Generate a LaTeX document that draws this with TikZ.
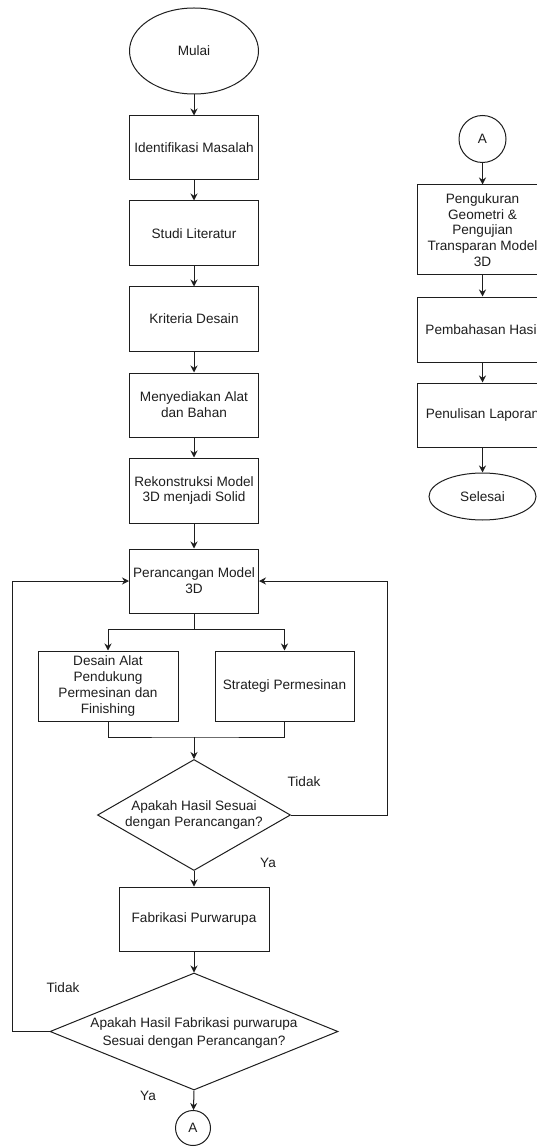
\documentclass[tikz,border=0pt]{standalone}
\usepackage{fontspec}
\setmainfont{Liberation Sans}
\usetikzlibrary{shapes.geometric,arrows.meta}
\definecolor{ln}{RGB}{30,30,30}
\definecolor{tx}{RGB}{30,30,30}
\tikzset{
  base/.style={draw=ln, line width=1pt, inner sep=0pt, align=center, text=tx,
    font=\fontsize{13.6}{15.8}\selectfont},
  box/.style={base, rectangle, minimum width=129pt, minimum height=64pt},
  oval/.style={base, ellipse},
  circ/.style={base, circle},
  dec/.style={draw=ln, line width=1pt, diamond, inner sep=0pt},
  txt/.style={inner sep=0pt, align=center, text=tx, font=\fontsize{13.6}{15.8}\selectfont},
  arr/.style={draw=ln, line width=1pt, -{Stealth[length=7pt,width=7pt]}},
  ln/.style={draw=ln, line width=1pt}
}
\begin{document}
\begin{tikzpicture}[x=1pt,y=-1pt]
\useasboundingbox (0,0) rectangle (536,1147);
\fill[white] (0,0) rectangle (536,1147);
% left column
\node[oval, minimum width=129pt, minimum height=86pt] (mulai) at (194,51) {Mulai};
\node[box] (ident) at (194,148) {Identifikasi Masalah};
\node[box, minimum height=65pt] (studi) at (194,233.5) {Studi Literatur};
\node[box] (krit) at (194,319) {Kriteria Desain};
\node[box] (meny) at (194,405) {Menyediakan Alat\\dan Bahan};
\node[box, minimum height=65pt] (rekon) at (194,490.5) {Rekonstruksi Model\\3D menjadi Solid};
\node[box] (peran) at (194,581) {Perancangan Model\\3D};
\node[box, minimum width=140pt, minimum height=70pt] (desain) at (108,686) {Desain Alat\\Pendukung\\Permesinan dan\\Finishing};
\node[box, minimum width=139pt, minimum height=70pt] (strat) at (284.5,686) {Strategi Permesinan};
\node[dec, minimum width=193pt, minimum height=111pt] (d1) at (194,815) {};
\node[txt] (d1t) at (194,815) {Apakah Hasil Sesuai\\dengan Perancangan?};
\node[box, minimum width=150pt] (fab) at (194,919) {Fabrikasi Purwarupa};
\node[dec, minimum width=288pt, minimum height=117pt] (d2) at (194,1031.5) {};
\node[txt, font=\fontsize{13.6}{17.5}\selectfont] (d2t) at (194,1033) {Apakah Hasil Fabrikasi purwarupa\\Sesuai dengan Perancangan?};
\node[circ, minimum size=35pt] (a1) at (193,1128) {A};
% right column
\node[circ, minimum size=47pt] (a2) at (482.5,139) {A};
\node[box, minimum width=131pt, minimum height=90pt] (peng) at (482.5,230) {Pengukuran\\Geometri \&\\Pengujian\\Transparan Model\\3D};
\node[box, minimum width=131pt, minimum height=65pt] (pemb) at (482.5,329.5) {Pembahasan Hasil};
\node[box, minimum width=131pt] (penu) at (482.5,415) {Penulisan Laporan};
\node[oval, minimum width=107pt, minimum height=47pt] (sel) at (482.5,496.5) {Selesai};
% labels
\node[txt] (t1) at (304,782) {Tidak};
\node[txt] (y1) at (268,863) {Ya};
\node[txt] (t2) at (63,988) {Tidak};
\node[txt] (y2) at (148,1096) {Ya};
% connectors
\draw[arr] (mulai) -- (ident);
\draw[arr] (ident) -- (studi);
\draw[arr] (studi) -- (krit);
\draw[arr] (krit) -- (meny);
\draw[arr] (meny) -- (rekon);
\draw[arr] (rekon) -- (peran);
\coordinate (split) at (194,629);
\draw[ln] (peran) -- (split);
\draw[arr] (split) -| (desain.north);
\draw[arr] (split) -| (strat.north);
\coordinate (merge) at (194,737);
\draw[ln] (desain.south) |- (merge) -| (strat.south);
\draw[arr] (merge) -- (d1.north);
\coordinate (rl) at (387,815);
\draw[arr] (d1.east) -- (rl) |- (peran.east);
\draw[arr] (d1.south) -- (fab);
\draw[arr] (fab) -- (d2.north);
\coordinate (ll) at (12,1031.5);
\draw[arr] (d2.west) -- (ll) |- (peran.west);
\draw[arr] (d2.south) -- (a1);
\draw[arr] (a2) -- (peng);
\draw[arr] (peng) -- (pemb);
\draw[arr] (pemb) -- (penu);
\draw[arr] (penu) -- (sel);
\end{tikzpicture}
\end{document}
